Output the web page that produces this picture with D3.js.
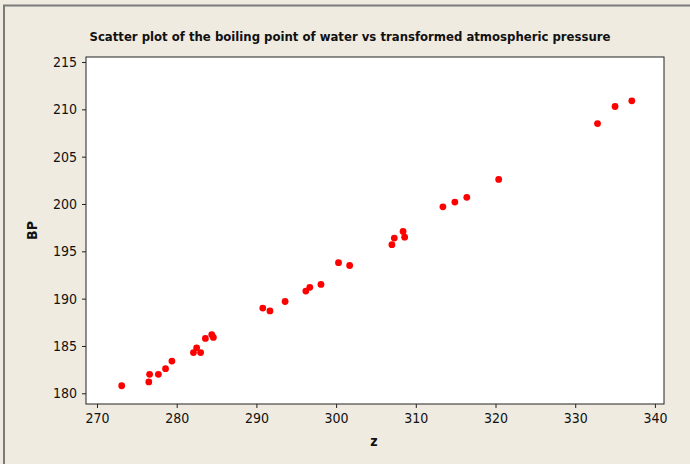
<!DOCTYPE html>
<html>
<head>
<meta charset="utf-8">
<script src="https://cdn.jsdelivr.net/npm/d3@7"></script>
<style>
  html, body { margin: 0; padding: 0; background: #efebe1; }
  svg { display: block; }
</style>
</head>
<body>
<svg id="chart"></svg>
<script>
const title = "Scatter plot of the boiling point of water vs transformed atmospheric pressure";
const xLabel = "z";
const yLabel = "BP";

// transformed pressure (z) and boiling point (BP)
const zValues = [
    273.1, 276.5, 276.6, 277.7, 278.6, 279.4, 282.1, 282.5, 283.0, 283.6,
    284.4, 284.6, 290.8, 291.7, 293.6, 296.2, 296.7, 298.1, 300.3, 301.7,
    307.0, 307.3, 308.4, 308.6, 313.4, 314.9, 316.4, 320.4, 332.8, 335.0,
    337.1
];
const bpValues = [
    180.8, 181.2, 182.0, 182.0, 182.6, 183.4, 184.3, 184.8, 184.3, 185.8,
    186.2, 185.9, 189.0, 188.7, 189.7, 190.8, 191.2, 191.5, 193.8, 193.5,
    195.7, 196.4, 197.1, 196.5, 199.7, 200.2, 200.7, 202.6, 208.5, 210.3,
    210.9
];
const xTicks = [270, 280, 290, 300, 310, 320, 330, 340];
const yTicks = [180, 185, 190, 195, 200, 205, 210, 215];

const width = 690, height = 464;
const plot = {l: 86, t: 57, r: 664, b: 404};
const bgColor = "#efebe1";
const fontFamily = "'DejaVu Sans Condensed', 'DejaVu Sans', sans-serif";

const data = zValues.map((z, i) => ({z: z, bp: bpValues[i]}));

const svg = d3.select("#chart").attr("width", width).attr("height", height);

// outer frame
svg.append("rect")
    .attr("x", 0).attr("y", 0).attr("width", width).attr("height", height)
    .attr("fill", bgColor);
svg.append("path")
    .attr("d", `M4,${height} V5.5 H${width}`)
    .attr("fill", "none")
    .attr("stroke", "#7a7a7a")
    .attr("stroke-width", 2);

const x = d3.scaleLinear().domain([268.62, 341.14]).range([plot.l, plot.r]);
const y = d3.scaleLinear().domain([178.87, 215.53]).range([plot.b, plot.t]);

// plot area
svg.append("rect")
    .attr("x", plot.l).attr("y", plot.t)
    .attr("width", plot.r - plot.l).attr("height", plot.b - plot.t)
    .attr("fill", "#ffffff")
    .attr("stroke", "#222")
    .attr("stroke-width", 1);

const xAxis = svg.append("g")
    .attr("transform", `translate(0,${plot.b})`)
    .call(d3.axisBottom(x).tickValues(xTicks).tickSize(4).tickPadding(5).tickSizeOuter(0));
const yAxis = svg.append("g")
    .attr("transform", `translate(${plot.l},0)`)
    .call(d3.axisLeft(y).tickValues(yTicks).tickSize(4).tickPadding(5).tickSizeOuter(0));

[xAxis, yAxis].forEach(g => {
    g.select(".domain").remove();
    g.selectAll(".tick line").attr("stroke", "#222");
    g.selectAll(".tick text")
        .attr("fill", "#111")
        .style("font-family", fontFamily)
        .style("font-size", "14px");
});

// points
svg.selectAll(".dot").data(data)
    .join("circle")
    .attr("class", "dot")
    .attr("cx", d => x(d.z))
    .attr("cy", d => y(d.bp))
    .attr("r", 3.4)
    .attr("fill", "#ff0000");

// title and labels
svg.append("text")
    .attr("x", 350).attr("y", 41)
    .attr("text-anchor", "middle")
    .style("font-family", fontFamily)
    .style("font-size", "13px")
    .style("font-weight", "bold")
    .attr("fill", "#111")
    .text(title);

svg.append("text")
    .attr("x", (plot.l + plot.r) / 2 - 1).attr("y", 446)
    .attr("text-anchor", "middle")
    .style("font-family", fontFamily)
    .style("font-size", "14px")
    .style("font-weight", "bold")
    .attr("fill", "#111")
    .text(xLabel);

svg.append("text")
    .attr("transform", `translate(37,${(plot.t + plot.b) / 2}) rotate(-90)`)
    .attr("text-anchor", "middle")
    .style("font-family", fontFamily)
    .style("font-size", "14px")
    .style("font-weight", "bold")
    .attr("fill", "#111")
    .text(yLabel);
</script>
</body>
</html>
